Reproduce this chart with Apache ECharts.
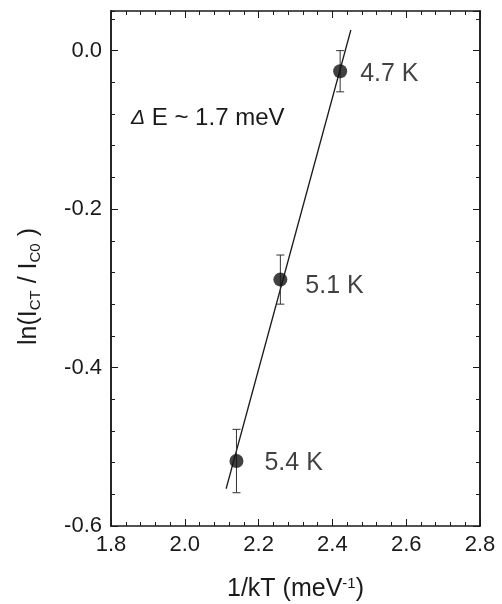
<!DOCTYPE html>
<html>
<head>
<meta charset="utf-8">
<script src="https://cdn.jsdelivr.net/npm/echarts@6/dist/echarts.min.js"></script>
<style>
  html, body { margin: 0; padding: 0; background: #fff; }
  #main { width: 502px; height: 604px; }
</style>
</head>
<body>
<div id="main"></div>
<script>
// data
const temps = ['4.7 K', '5.1 K', '5.4 K']
const invKT = [2.421, 2.259, 2.140]
const lnRatio = [-0.026, -0.289, -0.518]
const errBar = [0.026, 0.031, 0.040]
// linear fit, slope ~ 1.7 meV
const fitX = [2.112, 2.450]
const fitY = [-0.553, 0.026]

const font = 'Liberation Sans, Arial, sans-serif'
const ink = '#1a1a1a'

const chart = echarts.init(document.getElementById('main'))

// label tweaks so the text sits where the figure has it
const labelDist = [13, 18, 21]
const labelDy = [3, 7, 2]

const points = invKT.map((x, i) => ({
  value: [x, lnRatio[i]],
  label: {show: true, formatter: temps[i], distance: labelDist[i], offset: [0, labelDy[i]]}
}))
const bars = invKT.map((x, i) => [x, lnRatio[i] - errBar[i], lnRatio[i] + errBar[i]])
const fit = fitX.map((x, i) => [x, fitY[i]])

const axisBase = {
  axisLine: {show: true, onZero: false, lineStyle: {color: ink, width: 1.5}},
  splitLine: {show: false},
}

chart.setOption({
  animation: false,
  grid: {left: 111, right: 22, top: 11, bottom: 78, outerBoundsMode: 'none'},
  xAxis: [
    {
      ...axisBase,
      type: 'value', min: 1.8, max: 2.8, interval: 0.2, position: 'bottom',
      axisTick: {inside: true, length: 7, lineStyle: {color: ink}},
      minorTick: {show: true, splitNumber: 5, length: 4, lineStyle: {color: ink}},
      axisLabel: {fontFamily: font, fontSize: 22, color: ink, margin: 8, formatter: v => v.toFixed(1)},
      name: '1/kT (meV{sup|-1})', nameLocation: 'middle', nameGap: 50,
      nameTextStyle: {fontFamily: font, fontSize: 25, color: ink, rich: {sup: {fontFamily: font, fontSize: 15, color: ink, verticalAlign: 'top', padding: [0, 0, 12, 0]}}}
    },
    {
      ...axisBase,
      type: 'value', min: 1.8, max: 2.8, interval: 0.2, position: 'top',
      axisTick: {inside: true, length: 7, lineStyle: {color: ink}},
      minorTick: {show: true, splitNumber: 5, length: 4, lineStyle: {color: ink}},
      axisLabel: {show: false}
    }
  ],
  yAxis: [
    {
      ...axisBase,
      type: 'value', min: -0.6, max: 0.05, interval: 0.2, position: 'left',
      axisTick: {inside: true, length: 7, lineStyle: {color: ink}},
      axisLabel: {fontFamily: font, fontSize: 22, color: ink, margin: 9, showMaxLabel: false, formatter: v => v.toFixed(1)},
      name: 'ln(I{sub|CT} / I{sub|C0} )', nameLocation: 'middle', nameGap: 68, nameRotate: 90,
      nameTextStyle: {fontFamily: font, fontSize: 25, color: ink, padding: [0, 36, 0, 0], rich: {sub: {fontFamily: font, fontSize: 15, color: ink, verticalAlign: 'bottom', padding: [12, 0, 0, 0]}}}
    },
    {
      ...axisBase,
      type: 'value', min: -0.6, max: 0.05, interval: 0.04, position: 'left',
      axisTick: {inside: true, length: 4, lineStyle: {color: ink}},
      axisLabel: {show: false}
    },
    {
      ...axisBase,
      type: 'value', min: -0.6, max: 0.05, interval: 0.2, position: 'right',
      axisTick: {inside: true, length: 7, lineStyle: {color: ink}},
      axisLabel: {show: false}
    },
    {
      ...axisBase,
      type: 'value', min: -0.6, max: 0.05, interval: 0.04, position: 'right',
      axisTick: {inside: true, length: 4, lineStyle: {color: ink}},
      axisLabel: {show: false}
    }
  ],
  series: [
    {
      type: 'line',
      data: fit,
      symbol: 'none',
      lineStyle: {color: ink, width: 1.3},
      z: 2
    },
    {
      type: 'custom',
      data: bars,
      renderItem: (params, api) => {
        const lo = api.coord([api.value(0), api.value(1)])
        const hi = api.coord([api.value(0), api.value(2)])
        const cap = 4
        const style = {stroke: '#333', lineWidth: 1}
        return {
          type: 'group',
          children: [
            {type: 'line', shape: {x1: lo[0], y1: lo[1], x2: hi[0], y2: hi[1]}, style},
            {type: 'line', shape: {x1: lo[0] - cap, y1: lo[1], x2: lo[0] + cap, y2: lo[1]}, style},
            {type: 'line', shape: {x1: hi[0] - cap, y1: hi[1], x2: hi[0] + cap, y2: hi[1]}, style}
          ]
        }
      },
      z: 3
    },
    {
      type: 'scatter',
      data: points,
      symbol: 'circle',
      symbolSize: 14,
      itemStyle: {color: '#111'},
      label: {position: 'right', fontFamily: font, fontSize: 25, color: '#111'},
      z: 4
    }
  ],
  graphic: [
    {
      type: 'text',
      left: 131,
      top: 106,
      style: {
        text: '{i|Δ} E ~ 1.7 meV',
        fontFamily: font, fontSize: 24, fill: ink,
        rich: {i: {fontFamily: font, fontSize: 21, fontStyle: 'italic', fill: ink}}
      }
    }
  ]
})
</script>
</body>
</html>
